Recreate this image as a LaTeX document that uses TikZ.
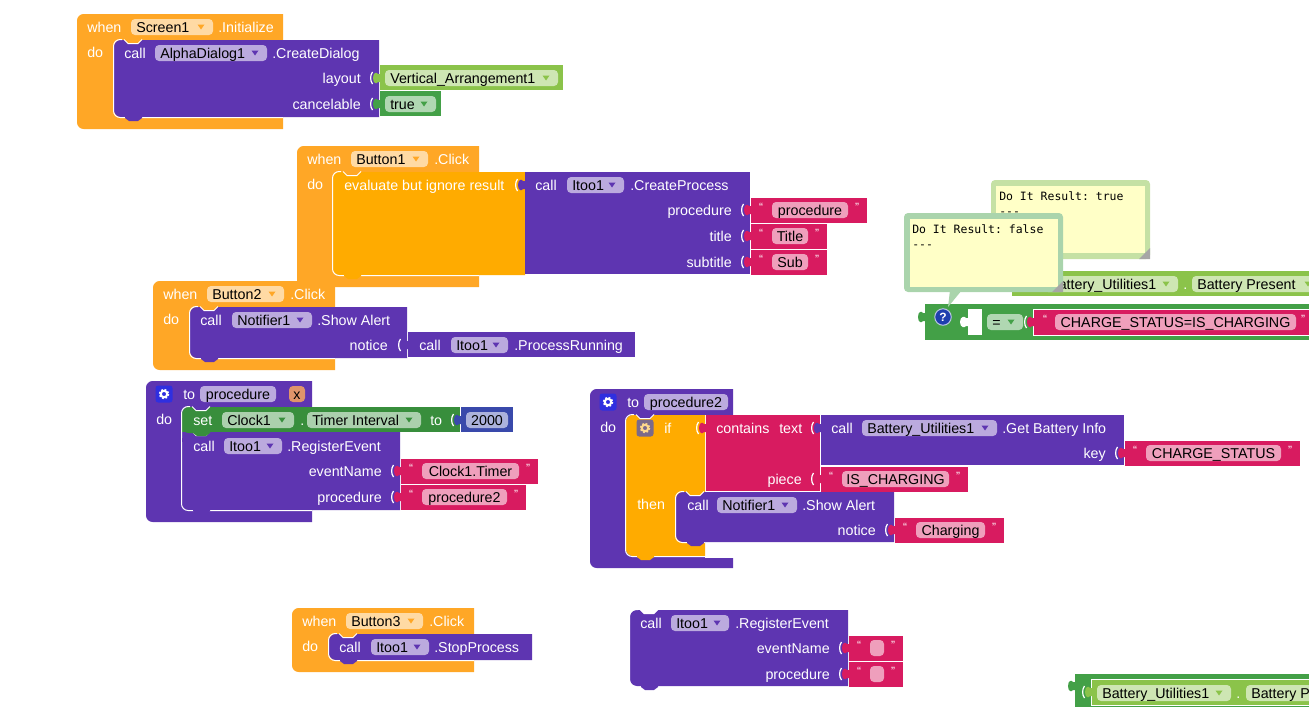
\documentclass[tikz,border=0pt]{standalone}
\usepackage{fontspec}
\setmainfont{Liberation Sans}
\setmonofont{DejaVu Sans Mono}
\usepackage{tikz}
\usetikzlibrary{positioning}

\definecolor{whenorange}{HTML}{FFA726}
\definecolor{ctrlorange}{HTML}{FFAB00}
\definecolor{callpurple}{HTML}{5E35B1}
\definecolor{textred}{HTML}{D81B60}
\definecolor{lightgreen}{HTML}{8BC34A}
\definecolor{logicgreen}{HTML}{43A047}
\definecolor{setgreen}{HTML}{388E3C}
\definecolor{mathblue}{HTML}{3949AB}
\definecolor{notepaper}{HTML}{FFFFC7}
\definecolor{argorange}{HTML}{E0946A}
\definecolor{gearblue}{HTML}{2F2FE0}
\definecolor{geargrey}{HTML}{7B6A8A}
\definecolor{helpblue}{HTML}{1E3FAE}

\tikzset{
  lbl/.style={text=white, inner sep=0pt, text height=8pt, text depth=0pt,
    font=\fontsize{10.7}{12}\selectfont},
  lblw/.style={lbl, anchor=west},
  lble/.style={lbl, anchor=east},
  fldw/.style={lblw, text=black},
  fldc/.style={lbl, text=black},
  quo/.style={text=white, inner sep=0pt, font=\fontsize{9}{9}\selectfont},
  note/.style={anchor=north west, inner sep=0pt, align=left, text=black,
    font=\ttfamily\fontsize{8.6}{11.3}\selectfont},
  edge/.style={white, line width=0.75pt},
}

% x1,y1,x2,y2,colour
\newcommand{\body}[5]{
  \fill[#5] (#3,#2) [rounded corners=5pt] -- (#1,#2) -- (#1,#4) [sharp corners] -- (#3,#4) -- cycle;
}
% x1,y1,x2,y2,colour,colour of the parent,end of the white edge
\newcommand{\stmt}[7]{
  \body{#1}{#2}{#3}{#4}{#5}
  \draw[edge] (#1+8,#2-.5) [rounded corners=5pt] -- (#1-.5,#2-.5) -- (#1-.5,#4+.5) [sharp corners] -- (#7,#4+.5);
  \filldraw[fill=#6, draw=white, line width=0.75pt] (#1+10,#2-.5) -- (#1+14,#2+3.5) -- (#1+24,#2+3.5) -- (#1+28,#2-.5);
  \fill[#5] (#1+11,#4-1) -- (#1+11,#4+1) -- (#1+15,#4+4) -- (#1+24,#4+4) -- (#1+28,#4+1) -- (#1+28,#4-1) -- cycle;
}
% x,y,colour
\newcommand{\plug}[3]{
  \draw[white, line width=0.9pt] (#1-7.5,#2-6) .. controls (#1-10,#2-3) and (#1-10,#2+3) .. (#1-7.5,#2+6);
  \fill[#3] (#1+1,#2-4) -- (#1-2,#2-4) .. controls (#1-3,#2-6) and (#1-7,#2-6) .. (#1-7,#2)
    .. controls (#1-7,#2+6) and (#1-3,#2+6) .. (#1-2,#2+4) -- (#1+1,#2+4) -- cycle;
}
% x,y,colour
\newcommand{\droptri}[3]{
  \fill[#3] (#1-3.5,#2-2.5) -- (#1+3.5,#2-2.5) -- (#1,#2+2.5) -- cycle;
}
% name,x1,x2,y,colour,text
\newcommand{\dropfld}[6]{
  \fill[#5!42!white, rounded corners=3pt] (#2,#4-8) rectangle (#3,#4+8);
  \node[fldw] (#1) at (#2+5,#4) {#6};
  \droptri{#3-12}{#4}{#5}
}
% name,x1,x2,y,colour,text
\newcommand{\namefld}[6]{
  \fill[#5!42!white, rounded corners=3pt] (#2,#4-8) rectangle (#3,#4+8);
  \node[fldc] (#1) at ({(#2+#3)/2},#4) {#6};
}
% name,x1,x2,y,text
\newcommand{\strblock}[5]{
  \fill[textred] (#2,#4-12) rectangle (#3,#4+13);
  \plug{#2}{#4}{textred}
  \namefld{#1}{#2+21}{#3-19}{#4}{textred}{#5}
  \node[quo] (#1l) at (#2+10,#4-3) {“};
  \node[quo] (#1r) at (#3-10,#4-3) {”};
}
% x,y,colour of the box,colour of the wheel
\newcommand{\gearicon}[4]{
  \fill[#3, rounded corners=2pt] (#1-8.5,#2-8.5) rectangle (#1+8.5,#2+8.5);
  \draw[#4, line width=1.5pt] (#1,#2) circle (3.2);
  \draw[#4, line width=1.3pt, dash pattern=on 1.4pt off 1.25pt] (#1,#2) circle (4.5);
}

\begin{document}
\begin{tikzpicture}[x=0.75pt, y=-0.75pt]
\clip (0,0) rectangle (1309,707);

% Screen1
\body{77}{14}{283}{129}{whenorange}
\node[lblw] (whenA) at (87,27) {when};
\dropfld{screenA}{131}{213}{27}{whenorange}{Screen1}
\node[lblw] (initA) at (218,27) {.Initialize};
\node[lblw] (doA) at (87,52) {do};
\stmt{114}{40}{379}{117}{callpurple}{whenorange}{283}
\node[lblw] (callA) at (124,53) {call};
\dropfld{dialogA}{155}{267}{53}{callpurple}{AlphaDialog1}
\node[lblw] (createA) at (272,53) {.CreateDialog};
\node[lble] (layoutA) at (361,78) {layout};
\node[lble] (cancelA) at (361,104) {cancelable};
\fill[lightgreen] (380,65) rectangle (563,90);
\plug{380}{78}{lightgreen}
\dropfld{vertA}{385}{558}{78}{lightgreen}{Vertical\_Arrangement1}
\fill[logicgreen] (380,91) rectangle (441,116);
\plug{380}{104}{logicgreen}
\dropfld{trueA}{385}{436}{104}{logicgreen}{true}

% Button1
\body{297}{146}{479}{287}{whenorange}
\node[lblw] (whenB) at (307,159) {when};
\dropfld{buttonB}{351}{428}{159}{whenorange}{Button1}
\node[lblw] (clickB) at (434,159) {.Click};
\node[lblw] (doB) at (307,184) {do};
\stmt{333}{172}{525}{275}{ctrlorange}{whenorange}{479}
\node[lblw] (evalB) at (344,185) {evaluate but ignore result};
\fill[callpurple] (525,172) rectangle (750,274);
\plug{525}{185}{callpurple}
\node[lblw] (callB) at (535,185) {call};
\dropfld{itooB}{567}{624}{185}{callpurple}{Itoo1}
\node[lblw] (createB) at (630,185) {.CreateProcess};
\node[lble] (procB) at (732,210) {procedure};
\node[lble] (titleB) at (732,236) {title};
\node[lble] (subB) at (732,262) {subtitle};
\strblock{procS}{751}{867}{210}{procedure}
\strblock{titleS}{751}{827}{236}{Title}
\strblock{subS}{751}{827}{262}{Sub}

% Button2
\body{153}{281}{335}{370}{whenorange}
\node[lblw] (whenC) at (163,294) {when};
\dropfld{buttonC}{207}{284}{294}{whenorange}{Button2}
\node[lblw] (clickC) at (290,294) {.Click};
\node[lblw] (doC) at (163,319) {do};
\stmt{190}{307}{407}{358}{callpurple}{whenorange}{335}
\node[lblw] (callC) at (200,320) {call};
\dropfld{notifC}{232}{312}{320}{callpurple}{Notifier1}
\node[lblw] (alertC) at (317,320) {.Show Alert};
\node[lble] (noticeC) at (388,345) {notice};
\fill[callpurple] (408,332) rectangle (635,357);
\plug{408}{345}{callpurple}
\node[lblw] (callCb) at (419,345) {call};
\dropfld{itooC}{451}{508}{345}{callpurple}{Itoo1}
\node[lblw] (runC) at (514,345) {.ProcessRunning};

% procedure
\body{146}{381}{312}{522}{callpurple}
\gearicon{164}{394}{gearblue}{white}
\node[lblw] (toD) at (183,394) {to};
\namefld{nameD}{200}{276}{394}{callpurple}{procedure}
\fill[argorange, rounded corners=3pt] (289,386) rectangle (305,402);
\node[fldc] (argD) at (297,394) {x};
\node[lblw] (doD) at (156,419) {do};
\stmt{182}{432}{400}{510}{callpurple}{setgreen}{312}
\fill[callpurple] (182,432) rectangle (192,442);
\body{182}{407}{194}{433}{setgreen}
\fill[setgreen] (188,407) rectangle (460,432);
\fill[setgreen] (182,425) rectangle (192,432);
\fill[setgreen] (193,431) -- (193,433) -- (197,436) -- (206,436) -- (210,433) -- (210,431) -- cycle;
\draw[edge] (190,406.5) [rounded corners=5pt] -- (181.5,406.5) -- (181.5,438);
\filldraw[fill=callpurple, draw=white, line width=0.75pt] (192,406.5) -- (196,410.5) -- (206,410.5) -- (210,406.5);
\node[lblw] (setD) at (193,420) {set};
\dropfld{clockD}{222}{294}{420}{setgreen}{Clock1}
\node[lblw] (dotD) at (300,420) {.};
\dropfld{timerD}{307}{421}{420}{setgreen}{Timer Interval}
\node[lblw] (toDb) at (430,420) {to};
\fill[mathblue] (461,407) rectangle (513,432);
\plug{461}{420}{mathblue}
\namefld{numD}{466}{508}{420}{mathblue}{2000}
\node[lblw] (callD) at (193,446) {call};
\dropfld{itooD}{224}{282}{446}{callpurple}{Itoo1}
\node[lblw] (regD) at (287,446) {.RegisterEvent};
\node[lble] (eventD) at (382,471) {eventName};
\node[lble] (procD) at (382,497) {procedure};
\strblock{timerS}{401}{538}{471}{Clock1.Timer}
\strblock{proctwoS}{401}{526}{497}{procedure2}

% procedure2
\body{590}{389}{733}{568}{callpurple}
\fill[white] (705,415) rectangle (734,557.5);
\gearicon{608}{402}{gearblue}{white}
\node[lblw] (toE) at (627,402) {to};
\namefld{nameE}{644}{728}{402}{callpurple}{procedure2}
\node[lblw] (doE) at (600,427) {do};
\stmt{626}{415}{705}{556}{ctrlorange}{callpurple}{705}
\gearicon{645}{428}{geargrey}{ctrlorange!45!white}
\node[lblw] (ifE) at (664,428) {if};
\node[lblw] (thenE) at (637,504) {then};
\fill[textred] (706,415) rectangle (820,491);
\plug{706}{428}{textred}
\node[lblw] (hasE) at (716,428) {contains};
\node[lblw] (textE) at (779,428) {text};
\node[lble] (pieceE) at (802,479) {piece};
\fill[callpurple] (821,415) rectangle (1124,465);
\plug{821}{428}{callpurple}
\node[lblw] (callE) at (831,428) {call};
\dropfld{battE}{862}{997}{428}{callpurple}{Battery\_Utilities1}
\node[lblw] (infoE) at (1002,428) {.Get Battery Info};
\node[lble] (keyE) at (1106,453) {key};
\strblock{statusS}{1125}{1300}{453}{CHARGE\_STATUS}
\strblock{chargeS}{821}{968}{479}{IS\_CHARGING}
\stmt{676}{492}{894}{542}{callpurple}{ctrlorange}{705}
\node[lblw] (callEb) at (687,505) {call};
\dropfld{notifE}{717}{797}{505}{callpurple}{Notifier1}
\node[lblw] (alertE) at (802,505) {.Show Alert};
\node[lble] (noticeE) at (876,530) {notice};
\strblock{chgS}{895}{1004}{530}{Charging}

% Button3
\body{292}{608}{474}{672}{whenorange}
\node[lblw] (whenF) at (302,621) {when};
\dropfld{buttonF}{346}{423}{621}{whenorange}{Button3}
\node[lblw] (clickF) at (429,621) {.Click};
\node[lblw] (doF) at (302,646) {do};
\stmt{329}{634}{532}{660}{callpurple}{whenorange}{474}
\node[lblw] (callF) at (339,647) {call};
\dropfld{itooF}{371}{429}{647}{callpurple}{Itoo1}
\node[lblw] (stopF) at (434,647) {.StopProcess};

% RegisterEvent on its own
\stmt{630}{610}{848}{686}{callpurple}{white}{630}
\node[lblw] (callG) at (640,623) {call};
\dropfld{itooG}{671}{729}{623}{callpurple}{Itoo1}
\node[lblw] (regG) at (735,623) {.RegisterEvent};
\node[lble] (eventG) at (830,648) {eventName};
\node[lble] (procG) at (830,674) {procedure};
\strblock{emptyS}{849}{903}{648}{}
\strblock{emptyT}{849}{903}{674}{}

% Battery bars
\fill[lightgreen] (1012,271) rectangle (1309,296);
\dropfld{battH}{1044}{1178}{284}{lightgreen}{Battery\_Utilities1}
\node[lblw] (dotH) at (1183,284) {.};
\dropfld{presH}{1192}{1320}{284}{lightgreen}{Battery Present}

\fill[logicgreen] (1075,674) rectangle (1309,707);
\plug{1075}{686}{logicgreen}
\fill[white] (1091,679) rectangle (1309,705.5);
\fill[lightgreen] (1092,680) rectangle (1309,705);
\fill[logicgreen] (1083,680) rectangle (1091,705);
\plug{1092}{692}{lightgreen}
\dropfld{battI}{1097}{1231}{693}{lightgreen}{Battery\_Utilities1}
\node[lblw] (dotI) at (1236,693) {.};
\fill[lightgreen!42!white, rounded corners=3pt] (1246,685) rectangle (1330,701);
\node[fldw] (presI) at (1251,693) {Battery P};

% compare block
\fill[logicgreen] (925,304) rectangle (1309,340);
\plug{925}{317}{logicgreen}
\node[draw=white!70!helpblue, line width=0.75pt, fill=helpblue, circle, minimum size=16.5*0.75pt, inner sep=0pt, text=white,
  font=\bfseries\fontsize{9}{9}\selectfont] (helpJ) at (943,317) {?};
\fill[white] (968,309) rectangle (982,335);
\fill[white] (969,318) -- (966,318) .. controls (965,316) and (960,316) .. (960,322)
  .. controls (960,328) and (965,328) .. (966,326) -- (969,326) -- cycle;
\dropfld{eqJ}{987}{1023}{322}{logicgreen}{=}
\fill[white] (1033,309) rectangle (1309,336);
\fill[textred] (1034,310) rectangle (1309,335);
\plug{1034}{322}{textred}
\namefld{chgJ}{1055}{1296}{322}{textred}{CHARGE\_STATUS=IS\_CHARGING}
\node[quo] (chgJl) at (1045,319) {“};
\node[quo] (chgJr) at (1303,319) {”};

% result notes
\fill[lightgreen!50!white, rounded corners=3pt] (991,180) rectangle (1150,259);
\fill[notepaper] (996,186) rectangle (1145,253);
\fill[gray!70] (1150,248) -- (1150,259) -- (1139,259) -- cycle;
\node[note] (noteK) at (999,191) {Do It Result: true\\---};
\fill[logicgreen!45!white] (950,290) -- (948,307) -- (962,290) -- cycle;
\fill[logicgreen!45!white, rounded corners=3pt] (904,213) rectangle (1063,292);
\fill[notepaper] (910,219) rectangle (1058,287);
\fill[gray!70] (1063,281) -- (1063,292) -- (1052,292) -- cycle;
\node[note] (noteL) at (912,224) {Do It Result: false\\---};
\end{tikzpicture}
\end{document}
